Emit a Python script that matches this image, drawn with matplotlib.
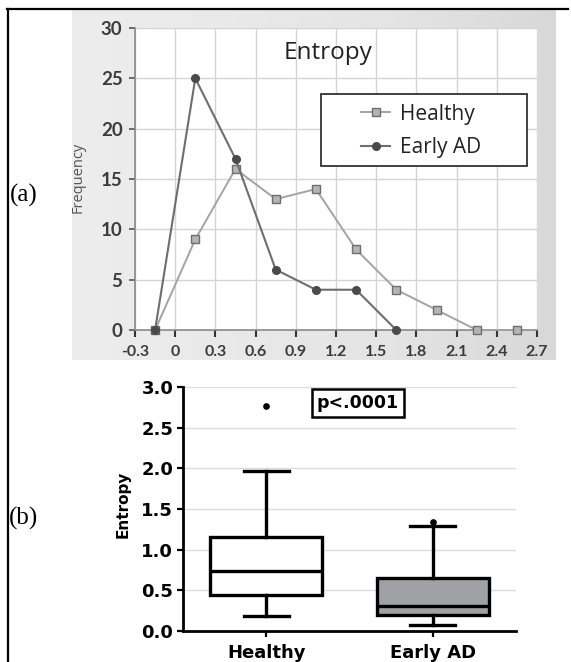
import matplotlib
matplotlib.use("Agg")
import matplotlib.pyplot as plt
import numpy as np
from matplotlib.lines import Line2D
from matplotlib.patches import Rectangle

# ---------------- data ----------------
bin_centers = [-0.15, 0.15, 0.45, 0.75, 1.05, 1.35, 1.65, 1.95, 2.25, 2.55]
healthy_freq = [0, 9, 16, 13, 14, 8, 4, 2, 0, 0]
early_centers = [-0.15, 0.15, 0.45, 0.75, 1.05, 1.35, 1.65]
early_freq = [0, 25, 17, 6, 4, 4, 0]
x_ticks_a = [-0.3, 0, 0.3, 0.6, 0.9, 1.2, 1.5, 1.8, 2.1, 2.4, 2.7]
x_ticklabels_a = ["-0.3", "0", "0.3", "0.6", "0.9", "1.2", "1.5", "1.8", "2.1", "2.4", "2.7"]
y_ticks_a = [0, 5, 10, 15, 20, 25, 30]

groups = ["Healthy", "Early AD"]
box_q1 = [0.44, 0.20]
box_med = [0.74, 0.31]
box_q3 = [1.15, 0.65]
box_wlo = [0.19, 0.07]
box_whi = [1.97, 1.29]
box_outliers = [[2.77], [1.34]]
y_ticks_b = [0.0, 0.5, 1.0, 1.5, 2.0, 2.5, 3.0]

W, H = 571, 662
fig = plt.figure(figsize=(W / 100, H / 100), dpi=100)

def fx(px):
    return px / W

def fy(py):
    return 1 - py / H

# ---------------- gray panel background (a) ----------------
bg = fig.add_axes([fx(72), fy(360), fx(555) - fx(72), fy(10) - fy(360)], zorder=0)
grad = np.linspace(0, 1, 256)[None, :]
cmap = matplotlib.colors.LinearSegmentedColormap.from_list(
    "g", ["#ededed", "#e9e9e9", "#e4e4e4", "#d8d8d8"])
bg.imshow(grad, aspect="auto", cmap=cmap, extent=[0, 1, 0, 1])
bg.set_axis_off()

# ---------------- panel (a) ----------------
axa = fig.add_axes([fx(135), fy(330), fx(537) - fx(135), fy(28) - fy(330)], zorder=1)
axa.set_facecolor("white")
axa.plot(bin_centers, healthy_freq, color="#a3a3a3", lw=1.4, marker="s", ms=5.5,
         mfc="#b4b4b4", mec="#6e6e6e", mew=1.0, label="Healthy", zorder=3, clip_on=False)
axa.plot(early_centers, early_freq, color="#6e6e6e", lw=1.5, marker="o", ms=5.5,
         mfc="#4a4a4a", mec="#4a4a4a", label="Early AD", zorder=4, clip_on=False)
axa.set_xlim(-0.3, 2.7)
axa.set_ylim(0, 30)
axa.set_xticks(x_ticks_a)
axa.set_xticklabels(x_ticklabels_a)
axa.set_yticks(y_ticks_a)
axa.grid(True, color="#d4d4d4", lw=1.0)
axa.set_axisbelow(True)
for s in ["top", "right"]:
    axa.spines[s].set_visible(False)
for s in ["left", "bottom"]:
    axa.spines[s].set_color("#8a8a8a")
    axa.spines[s].set_linewidth(1.2)
axa.tick_params(axis="y", direction="out", length=4, width=1.2, color="#555555",
                labelsize=13.5, labelcolor="#3c3c3c", pad=5)
axa.tick_params(axis="x", direction="out", length=5, width=1.5, color="#333333",
                labelsize=11.5, labelcolor="#3c3c3c", pad=6)
for lab in axa.get_yticklabels() + axa.get_xticklabels():
    lab.set_fontfamily("Lato")
    lab.set_fontweight("bold")
axa.text(0.48, 0.917, "Entropy", transform=axa.transAxes, ha="center", va="center",
         fontsize=17.5, family="Open Sans", color="#222222")
# legend frame (fixed size as in the reference)
axa.add_patch(Rectangle((0.4627, 0.543), 0.975 - 0.4627, 0.781 - 0.543,
                        transform=axa.transAxes, fc="white", ec="#333333", lw=1.3,
                        zorder=5))
leg = axa.legend(loc="center", bbox_to_anchor=(0.711, 0.659),
                 prop={"family": "Open Sans", "size": 15}, frameon=False,
                 handlelength=1.4, handletextpad=0.45, labelspacing=0.6,
                 borderaxespad=0, borderpad=0, labelcolor="#222222")
leg.set_zorder(6)
fig.text(fx(78), fy(177), "Frequency", rotation=90, ha="center", va="center",
         fontsize=10.5, family="Open Sans", color="#555555")

# ---------------- panel (b) ----------------
axb = fig.add_axes([fx(183), fy(631), fx(516) - fx(183), fy(387) - fy(631)], zorder=1)
stats = []
for i, g in enumerate(groups):
    stats.append(dict(label=g, q1=box_q1[i], med=box_med[i], q3=box_q3[i],
                      whislo=box_wlo[i], whishi=box_whi[i], fliers=box_outliers[i]))
bp = axb.bxp(stats, positions=[1, 2], widths=0.67, patch_artist=True, capwidths=0.27,
             boxprops=dict(lw=2.4, edgecolor="black"),
             medianprops=dict(color="black", lw=2.4),
             whiskerprops=dict(color="black", lw=2.4),
             capprops=dict(color="black", lw=2.4),
             flierprops=dict(marker="o", ms=3.8, mfc="black", mec="black"))
box_colors = ["white", "#a0a1a5"]
for patch, c in zip(bp["boxes"], box_colors):
    patch.set_facecolor(c)
axb.set_xlim(0.5, 2.5)
axb.set_ylim(0, 3.0)
axb.set_yticks(y_ticks_b)
axb.set_yticklabels([f"{v:.1f}" for v in y_ticks_b])
axb.yaxis.grid(True, color="#dcdcdc", lw=1.0)
axb.set_axisbelow(True)
for s in ["top", "right"]:
    axb.spines[s].set_visible(False)
for s in ["left", "bottom"]:
    axb.spines[s].set_linewidth(2.0)
axb.tick_params(axis="both", direction="out", length=4, width=1.6, labelsize=13, pad=3)
axb.tick_params(axis="x", pad=5)
for lab in axb.get_yticklabels() + axb.get_xticklabels():
    lab.set_fontfamily("DejaVu Sans")
    lab.set_fontweight("bold")
axb.text(1.55, 2.80, "p<.0001", ha="center", va="center", fontsize=12.5,
         family="DejaVu Sans", fontweight="bold",
         bbox=dict(boxstyle="square,pad=0.28", fc="white", ec="black", lw=1.8))
fig.text(fx(123), fy(504), "Entropy", rotation=90, ha="center", va="center",
         fontsize=11, family="DejaVu Sans", fontweight="bold")

# ---------------- labels and frame ----------------
fig.text(fx(24), fy(195), "(a)", ha="center", va="center", fontsize=18,
         family="Liberation Serif")
fig.text(fx(24), fy(518), "(b)", ha="center", va="center", fontsize=18,
         family="Liberation Serif")
fig.add_artist(Line2D([fx(7), fx(568)], [fy(9), fy(9)], color="black", lw=1.6,
                      transform=fig.transFigure))
fig.add_artist(Line2D([fx(7.5), fx(7.5)], [fy(9), fy(662)], color="black", lw=1.6,
                      transform=fig.transFigure))

fig.savefig("out.png", dpi=100)
